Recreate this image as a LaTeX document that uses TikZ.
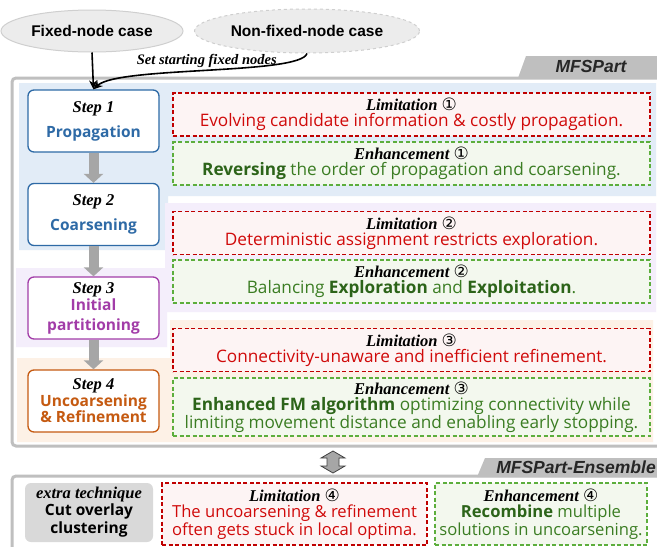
\documentclass[tikz,border=0pt]{standalone}
\usepackage{fontspec}
\setmainfont{Open Sans}
\newfontfamily\arialf{Liberation Sans}
\newfontfamily\timesf{Liberation Serif}
\newfontfamily\symf{DejaVu Sans}
\usetikzlibrary{arrows.meta,shapes.geometric}

\definecolor{panelgray}{HTML}{BFBFBF}
\definecolor{caseFill}{HTML}{ECECEC}
\definecolor{caseLine}{HTML}{CFCFCF}
\definecolor{blueBg}{HTML}{E2ECF7}
\definecolor{purpleBg}{HTML}{F4EEFB}
\definecolor{orangeBg}{HTML}{FDF1E6}
\definecolor{stepBlue}{HTML}{2E6AA6}
\definecolor{stepPurple}{HTML}{A23CA8}
\definecolor{stepOrange}{HTML}{C55A11}
\definecolor{flowGray}{HTML}{A6A6A6}
\definecolor{limRed}{HTML}{C00000}
\definecolor{limText}{HTML}{D00A0A}
\definecolor{limFill}{HTML}{FDF4F4}
\definecolor{enhGreen}{HTML}{5CAE3C}
\definecolor{enhFill}{HTML}{F3F8EE}
\definecolor{enhText}{HTML}{3B7D23}
\definecolor{enhDark}{HTML}{2C6419}
\definecolor{extraGray}{HTML}{D9D9D9}

% circled numbers and the serif headings
\newcommand\cn[1]{{\symf\mdseries\upshape\fontsize{17}{16}\selectfont #1}}
\newcommand\hd[1]{{\color{black}\timesf\bfseries\itshape\fontsize{16.5}{16}\selectfont #1}}
\newcommand\bodysize{\fontsize{17.2}{16.2}\selectfont}

\begin{document}
\begin{tikzpicture}[x=1pt,y=-1pt,
  stepbox/.style={draw, line width=1.3pt, rounded corners=6pt, fill=white,
    minimum width=131pt, minimum height=62pt, align=center, inner sep=0pt,
    font=\fontsize{15.5}{16}\selectfont\bfseries},
  note/.style={dash pattern=on 4pt off 2.5pt, line width=1.1pt,
    minimum width=477pt, minimum height=43pt, align=center, inner sep=0pt,
    font=\bodysize},
  limbox/.style={note, draw=limRed, fill=limFill, text=limText},
  enhbox/.style={note, draw=enhGreen, fill=enhFill, text=enhText},
  flow/.style={draw=flowGray, line width=10pt, -{Triangle[length=9pt,width=19pt]}},
  link/.style={line width=1.6pt, -{Stealth[length=9pt,width=8pt]}},
  casenode/.style={ellipse, fill=caseFill, draw=caseLine, line width=1pt,
    minimum width=182pt, font=\arialf\bfseries\fontsize{15.5}{15.5}\selectfont},
  tabtext/.style={font=\arialf\bfseries\itshape\fontsize{17.5}{17.5}\selectfont, text=black!85},
  panel/.style={draw=panelgray, line width=3pt, rounded corners=4pt, fill=white}
]
\useasboundingbox (0,0) rectangle (657,547);
\clip (0,0) rectangle (657,547);

% ---- main MFSPart panel ----
\draw[panel] (12,78) rectangle (690,446);
\fill[panelgray] (518,78) -- (526,56) -- (690,56) -- (690,78) -- cycle;
\node[tabtext] (tabMain) at (591,66) {MFSPart};

% stage backgrounds
\fill[blueBg] (19,83) -- (656,83) -- (656,196) -- (168,196) -- (168,250) -- (19,250) -- cycle;
\fill[purpleBg] (165,203) -- (656,203) -- (656,312) -- (167,312) -- (167,347) -- (16,347) -- (16,268) -- (165,268) -- cycle;
\fill[orangeBg] (170,320) -- (653,320) -- (653,442) -- (17,442) -- (17,358) -- (170,358) -- cycle;

% input cases
\node[casenode, minimum height=42pt] (fixed) at (92,31) {Fixed-node case};
\node[casenode, dashed, minimum height=44pt, minimum width=180pt] (nonfixed) at (307,31) {Non-fixed-node case};

% the four steps
\node[stepbox, draw=stepBlue, text=stepBlue] (s1) at (93.5,121)
  {\hd{Step 1}\\[9pt]Propagation};
\node[stepbox, draw=stepBlue, text=stepBlue] (s2) at (93.5,214.5)
  {\hd{Step 2}\\[9pt]Coarsening};
\node[stepbox, draw=stepPurple, text=stepPurple] (s3) at (93.5,308)
  {\hd{Step 3}\\[1pt]Initial\\[4pt]partitioning};
\node[stepbox, draw=stepOrange, text=stepOrange] (s4) at (93.5,401)
  {\hd{Step 4}\\[1pt]Uncoarsening\\\& Refinement};

\draw[flow] (s1.south) -- (s2.north);
\draw[flow] (s2.south) -- (s3.north);
\draw[flow] (s3.south) -- (s4.north);

\draw[link] (fixed.south) -- (s1.north);
\draw[link] (nonfixed.south) .. controls (300,75) and (118,66) .. (s1.north)
  node[pos=0.5, above=-1pt, font=\timesf\bfseries\itshape\fontsize{14.5}{14.5}\selectfont] (setlbl) {Set starting fixed nodes};

% limitations and enhancements
\node[limbox] (lim1) at (411.5,114.5)
  {\hd{Limitation \cn{①}}\\Evolving candidate information \& costly propagation.};
\node[enhbox] (enh1) at (411.5,163.5)
  {\hd{Enhancement \cn{①}}\\{\bfseries\color{enhDark}Reversing} the order of propagation and coarsening.};
\node[limbox] (lim2) at (411.5,233)
  {\hd{Limitation \cn{②}}\\Deterministic assignment restricts exploration.};
\node[enhbox] (enh2) at (411.5,281.5)
  {\hd{Enhancement \cn{②}}\\Balancing {\bfseries\color{enhDark}Exploration} and {\bfseries\color{enhDark}Exploitation}.};
\node[limbox] (lim3) at (411.5,350)
  {\hd{Limitation \cn{③}}\\Connectivity-unaware and inefficient refinement.};
\node[enhbox, minimum height=58pt] (enh3) at (411.5,407)
  {\hd{Enhancement \cn{③}}\\{\bfseries\color{enhDark}Enhanced FM algorithm} optimizing connectivity while\\limiting movement distance and enabling early stopping.};

% ---- link between the two variants ----
\draw[fill=flowGray, draw=black!75, line width=0.8pt, line join=miter]
  (333,451) -- (345,458) -- (339,458) -- (339,466) -- (345,466) -- (333,473)
  -- (321,466) -- (327,466) -- (327,458) -- (321,458) -- cycle;

% ---- MFSPart-Ensemble panel ----
\draw[panel] (12,476) rectangle (690,600);
\fill[panelgray] (477,477) -- (485,458) -- (690,458) -- (690,477) -- cycle;
\node[tabtext] (tabEns) at (576,467) {MFSPart-Ensemble};

\node[fill=extraGray, rounded corners=6pt, minimum width=128pt, minimum height=59pt,
  align=center, inner sep=0pt, font=\fontsize{15.5}{16}\selectfont\bfseries] (extra) at (89,512.5)
  {\hd{extra technique}\\[1pt]Cut overlay\\[2pt]clustering};
\node[limbox, minimum width=265pt, minimum height=62pt, font=\fontsize{16.6}{16.4}\selectfont] (lim4) at (294.5,514)
  {\hd{Limitation \cn{④}}\\The uncoarsening \& refinement\\often gets stuck in local optima.};
\node[enhbox, minimum width=212pt, minimum height=62pt, font=\fontsize{16.6}{16.4}\selectfont] (enh4) at (541,514)
  {\hd{Enhancement \cn{④}}\\{\bfseries\color{enhDark}Recombine} multiple\\solutions in uncoarsening.};
\end{tikzpicture}
\end{document}
